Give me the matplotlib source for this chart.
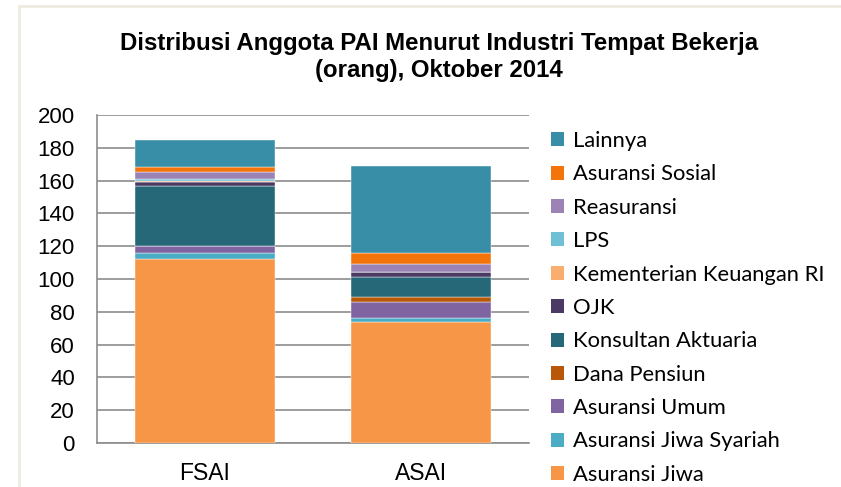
import matplotlib
matplotlib.use('Agg')
import matplotlib.pyplot as plt
from matplotlib.patches import Rectangle, Patch

categories = ['FSAI', 'ASAI']

# series, bottom to top of the stack
series = ['Asuransi Jiwa', 'Asuransi Jiwa Syariah', 'Asuransi Umum', 'Dana Pensiun',
          'Konsultan Aktuaria', 'OJK', 'Kementerian Keuangan RI', 'LPS',
          'Reasuransi', 'Asuransi Sosial', 'Lainnya']
asuransi_jiwa = [112, 74]
asuransi_jiwa_syariah = [4, 2]
asuransi_umum = [4, 10]
dana_pensiun = [0, 3]
konsultan_aktuaria = [37, 12]
ojk = [2, 3]
kementerian = [1, 0]
lps = [1, 0]
reasuransi = [4, 5]
asuransi_sosial = [3, 7]
lainnya = [17, 53]
values = [asuransi_jiwa, asuransi_jiwa_syariah, asuransi_umum, dana_pensiun,
          konsultan_aktuaria, ojk, kementerian, lps, reasuransi,
          asuransi_sosial, lainnya]
colors = ['#F79646', '#4BACC6', '#8064A2', '#B85708', '#276878', '#4B3A63',
          '#F9AD6E', '#6FC0D4', '#9B84B5', '#F3740B', '#378EA6']

fig = plt.figure(figsize=(8.41, 4.87), dpi=100)
ax = fig.add_axes([97/841, 1 - 443/487, 432/841, 328/487])

x = range(len(categories))
bottom = [0, 0]
for vals, col, name in zip(values, colors, series):
    ax.bar(x, vals, bottom=bottom, width=0.65, color=col, edgecolor='white',
           linewidth=0.3, label=name, zorder=3)
    bottom = [b + v for b, v in zip(bottom, vals)]

ax.set_xlim(-0.5, 1.5)
ax.set_ylim(0, 200)
ax.set_yticks(range(0, 201, 20))
ax.set_xticks(list(x))
ax.set_xticklabels(categories)
ax.yaxis.grid(True, color='#8c8c8c', linewidth=1.2, zorder=0)
ax.set_axisbelow(True)
for s in ['top', 'right']:
    ax.spines[s].set_visible(False)
for s in ['left', 'bottom']:
    ax.spines[s].set_color('#8c8c8c')
    ax.spines[s].set_linewidth(1.2)
ax.tick_params(axis='both', length=0)
ax.tick_params(axis='y', pad=16, labelsize=16)
ax.tick_params(axis='x', pad=14, labelsize=16.5)
for lab in ax.get_xticklabels() + ax.get_yticklabels():
    lab.set_fontfamily('Liberation Sans')

fig.text(439/841, 1 - 57/487, 'Distribusi Anggota PAI Menurut Industri Tempat Bekerja\n(orang), Oktober 2014',
         ha='center', va='center', fontsize=17.3, fontweight='bold',
         family='Liberation Sans', linespacing=1.2)

handles = [Patch(facecolor=c) for c in colors][::-1]
labels = series[::-1]
fig.legend(handles, labels, loc='upper left', bbox_to_anchor=(551/841, 1 - 131/487),
           frameon=False, prop={'family': 'Lato', 'size': 15.8},
           handlelength=0.6, handleheight=0.6, handletextpad=0.42,
           labelspacing=0.61, borderpad=0, borderaxespad=0)

# light page border from the screenshot
fig.patches.append(Rectangle((19/841, -0.1), 2, 1.1 - 6/487, transform=fig.transFigure,
                             fill=False, edgecolor='#EEEBE0', linewidth=2))

fig.savefig('out.png', dpi=100)
